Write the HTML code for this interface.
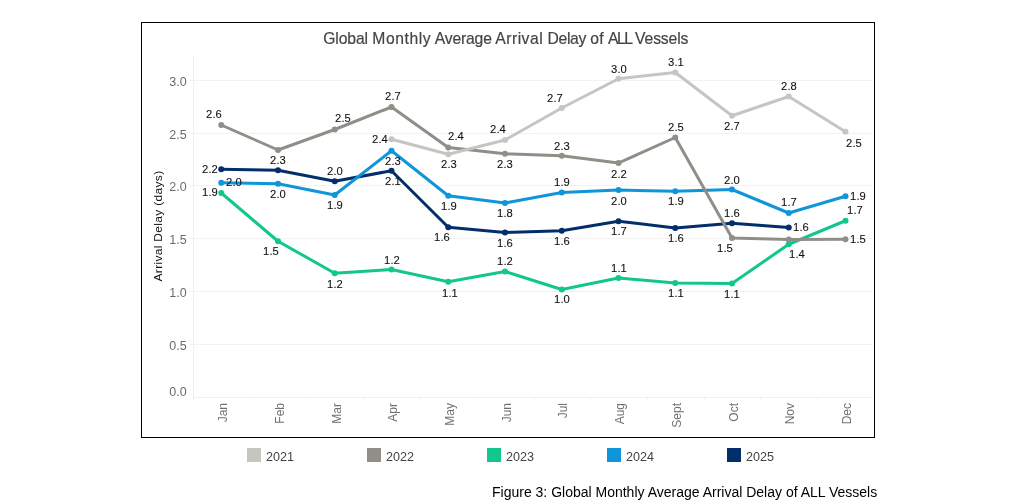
<!DOCTYPE html>
<html><head><meta charset="utf-8"><title>Figure 3</title>
<style>
html,body{margin:0;padding:0;background:#fff;}
body{width:1017px;height:500px;position:relative;overflow:hidden;font-family:"Liberation Sans",sans-serif;}
#frame{position:absolute;left:141px;top:22px;width:732px;height:414px;border:1px solid #000;}
.t{position:absolute;white-space:nowrap;line-height:1;}
.dl{font-size:11px;letter-spacing:0.1px;color:#111;-webkit-text-stroke:0.1px #111;transform:translateX(-50%) scaleX(1.02);margin-left:0.05px;}
.yl{font-size:12.5px;color:#6c6c6c;transform:translate(-100%,-50%);}
.ml{font-size:12px;letter-spacing:0px;color:#707070;transform-origin:0 0;transform:rotate(-90deg) translate(-100%,-50%);}
.lg{font-size:12.6px;color:#444;}
.sw{position:absolute;width:14px;height:14px;top:448px;}
#wrap{position:absolute;left:0;top:0;width:1017px;height:500px;will-change:transform;}
</style></head><body><div id="wrap">
<div id="frame"></div>

<svg width="1017" height="500" viewBox="0 0 1017 500" style="position:absolute;left:0;top:0">
<rect x="193" y="80" width="680" height="1" fill="#f2f2f2"/>
<rect x="189" y="80" width="4" height="1" fill="#f3f3f3"/>
<rect x="193" y="133" width="680" height="1" fill="#f2f2f2"/>
<rect x="189" y="133" width="4" height="1" fill="#f3f3f3"/>
<rect x="193" y="185" width="680" height="1" fill="#f2f2f2"/>
<rect x="189" y="185" width="4" height="1" fill="#f3f3f3"/>
<rect x="193" y="238" width="680" height="1" fill="#f2f2f2"/>
<rect x="189" y="238" width="4" height="1" fill="#f3f3f3"/>
<rect x="193" y="291" width="680" height="1" fill="#f2f2f2"/>
<rect x="189" y="291" width="4" height="1" fill="#f3f3f3"/>
<rect x="193" y="344" width="680" height="1" fill="#f2f2f2"/>
<rect x="189" y="344" width="4" height="1" fill="#f3f3f3"/>
<rect x="193" y="55" width="1" height="346" fill="#f0f0f0"/>
<rect x="193" y="397" width="680" height="1" fill="#f0f0f0"/>
<rect x="250" y="397" width="1" height="4" fill="#f2f2f2"/>
<rect x="306" y="397" width="1" height="4" fill="#f2f2f2"/>
<rect x="363" y="397" width="1" height="4" fill="#f2f2f2"/>
<rect x="420" y="397" width="1" height="4" fill="#f2f2f2"/>
<rect x="477" y="397" width="1" height="4" fill="#f2f2f2"/>
<rect x="534" y="397" width="1" height="4" fill="#f2f2f2"/>
<rect x="590" y="397" width="1" height="4" fill="#f2f2f2"/>
<rect x="647" y="397" width="1" height="4" fill="#f2f2f2"/>
<rect x="704" y="397" width="1" height="4" fill="#f2f2f2"/>
<rect x="760" y="397" width="1" height="4" fill="#f2f2f2"/>
<rect x="817" y="397" width="1" height="4" fill="#f2f2f2"/>
<path d="M221.25,169.25 L278.00,170.25 L334.75,181.25 L391.50,170.75 L448.25,227.25 L505.00,232.50 L561.75,230.75 L618.50,221.25 L675.25,228.00 L732.00,223.25 L788.75,227.50" fill="none" stroke="#022f6b" stroke-width="3" stroke-linejoin="round" stroke-linecap="round"/>
<circle cx="221.25" cy="169.25" r="3" fill="#022f6b"/>
<circle cx="278.00" cy="170.25" r="3" fill="#022f6b"/>
<circle cx="334.75" cy="181.25" r="3" fill="#022f6b"/>
<circle cx="391.50" cy="170.75" r="3" fill="#022f6b"/>
<circle cx="448.25" cy="227.25" r="3" fill="#022f6b"/>
<circle cx="505.00" cy="232.50" r="3" fill="#022f6b"/>
<circle cx="561.75" cy="230.75" r="3" fill="#022f6b"/>
<circle cx="618.50" cy="221.25" r="3" fill="#022f6b"/>
<circle cx="675.25" cy="228.00" r="3" fill="#022f6b"/>
<circle cx="732.00" cy="223.25" r="3" fill="#022f6b"/>
<circle cx="788.75" cy="227.50" r="3" fill="#022f6b"/>
<path d="M221.25,182.75 L278.00,183.75 L334.75,195.00 L391.50,150.75 L448.25,195.75 L505.00,203.00 L561.75,192.50 L618.50,190.00 L675.25,191.25 L732.00,189.50 L788.75,213.00 L845.50,196.25" fill="none" stroke="#0f95d8" stroke-width="3" stroke-linejoin="round" stroke-linecap="round"/>
<circle cx="221.25" cy="182.75" r="3" fill="#0f95d8"/>
<circle cx="278.00" cy="183.75" r="3" fill="#0f95d8"/>
<circle cx="334.75" cy="195.00" r="3" fill="#0f95d8"/>
<circle cx="391.50" cy="150.75" r="3" fill="#0f95d8"/>
<circle cx="448.25" cy="195.75" r="3" fill="#0f95d8"/>
<circle cx="505.00" cy="203.00" r="3" fill="#0f95d8"/>
<circle cx="561.75" cy="192.50" r="3" fill="#0f95d8"/>
<circle cx="618.50" cy="190.00" r="3" fill="#0f95d8"/>
<circle cx="675.25" cy="191.25" r="3" fill="#0f95d8"/>
<circle cx="732.00" cy="189.50" r="3" fill="#0f95d8"/>
<circle cx="788.75" cy="213.00" r="3" fill="#0f95d8"/>
<circle cx="845.50" cy="196.25" r="3" fill="#0f95d8"/>
<path d="M221.25,193.00 L278.00,241.25 L334.75,273.25 L391.50,269.50 L448.25,281.75 L505.00,271.50 L561.75,289.50 L618.50,278.00 L675.25,283.00 L732.00,283.50 L788.75,244.25 L845.50,220.75" fill="none" stroke="#12c68e" stroke-width="3" stroke-linejoin="round" stroke-linecap="round"/>
<circle cx="221.25" cy="193.00" r="3" fill="#12c68e"/>
<circle cx="278.00" cy="241.25" r="3" fill="#12c68e"/>
<circle cx="334.75" cy="273.25" r="3" fill="#12c68e"/>
<circle cx="391.50" cy="269.50" r="3" fill="#12c68e"/>
<circle cx="448.25" cy="281.75" r="3" fill="#12c68e"/>
<circle cx="505.00" cy="271.50" r="3" fill="#12c68e"/>
<circle cx="561.75" cy="289.50" r="3" fill="#12c68e"/>
<circle cx="618.50" cy="278.00" r="3" fill="#12c68e"/>
<circle cx="675.25" cy="283.00" r="3" fill="#12c68e"/>
<circle cx="732.00" cy="283.50" r="3" fill="#12c68e"/>
<circle cx="788.75" cy="244.25" r="3" fill="#12c68e"/>
<circle cx="845.50" cy="220.75" r="3" fill="#12c68e"/>
<path d="M221.25,125.00 L278.00,150.00 L334.75,129.50 L391.50,107.00 L448.25,147.50 L505.00,153.75 L561.75,155.75 L618.50,163.00 L675.25,137.50 L732.00,238.00 L788.75,239.50 L845.50,239.25" fill="none" stroke="#8f8f87" stroke-width="3" stroke-linejoin="round" stroke-linecap="round"/>
<circle cx="221.25" cy="125.00" r="3" fill="#8f8f87"/>
<circle cx="278.00" cy="150.00" r="3" fill="#8f8f87"/>
<circle cx="334.75" cy="129.50" r="3" fill="#8f8f87"/>
<circle cx="391.50" cy="107.00" r="3" fill="#8f8f87"/>
<circle cx="448.25" cy="147.50" r="3" fill="#8f8f87"/>
<circle cx="505.00" cy="153.75" r="3" fill="#8f8f87"/>
<circle cx="561.75" cy="155.75" r="3" fill="#8f8f87"/>
<circle cx="618.50" cy="163.00" r="3" fill="#8f8f87"/>
<circle cx="675.25" cy="137.50" r="3" fill="#8f8f87"/>
<circle cx="732.00" cy="238.00" r="3" fill="#8f8f87"/>
<circle cx="788.75" cy="239.50" r="3" fill="#8f8f87"/>
<circle cx="845.50" cy="239.25" r="3" fill="#8f8f87"/>
<path d="M391.50,139.25 L448.25,154.25 L505.00,140.00 L561.75,108.00 L618.50,78.75 L675.25,72.50 L732.00,115.75 L788.75,96.50 L845.50,131.75" fill="none" stroke="#c5c6c0" stroke-width="3" stroke-linejoin="round" stroke-linecap="round"/>
<circle cx="391.50" cy="139.25" r="3" fill="#c5c6c0"/>
<circle cx="448.25" cy="154.25" r="3" fill="#c5c6c0"/>
<circle cx="505.00" cy="140.00" r="3" fill="#c5c6c0"/>
<circle cx="561.75" cy="108.00" r="3" fill="#c5c6c0"/>
<circle cx="618.50" cy="78.75" r="3" fill="#c5c6c0"/>
<circle cx="675.25" cy="72.50" r="3" fill="#c5c6c0"/>
<circle cx="732.00" cy="115.75" r="3" fill="#c5c6c0"/>
<circle cx="788.75" cy="96.50" r="3" fill="#c5c6c0"/>
<circle cx="845.50" cy="131.75" r="3" fill="#c5c6c0"/>
</svg>
<div id="title"><span class="t" style="left:323.2px;top:30.6px;font-size:15.7px;color:#444;-webkit-text-stroke:0.2px #444;letter-spacing:-0.1px;">Global</span><span class="t" style="left:372.3px;top:30.6px;font-size:15.7px;color:#444;-webkit-text-stroke:0.2px #444;letter-spacing:0.57px;">Monthly</span><span class="t" style="left:434.7px;top:30.6px;font-size:15.7px;color:#444;-webkit-text-stroke:0.2px #444;letter-spacing:-0.16px;">Average</span><span class="t" style="left:495.2px;top:30.6px;font-size:15.7px;color:#444;-webkit-text-stroke:0.2px #444;letter-spacing:0.51px;">Arrival</span><span class="t" style="left:547.6px;top:30.6px;font-size:15.7px;color:#444;-webkit-text-stroke:0.2px #444;letter-spacing:-0.35px;">Delay</span><span class="t" style="left:590.3px;top:30.6px;font-size:15.7px;color:#444;-webkit-text-stroke:0.2px #444;letter-spacing:0.3px;">of</span><span class="t" style="left:608.0px;top:30.6px;font-size:15.7px;color:#444;-webkit-text-stroke:0.2px #444;letter-spacing:-1.5px;">ALL</span><span class="t" style="left:635.1px;top:30.6px;font-size:15.7px;color:#444;-webkit-text-stroke:0.2px #444;letter-spacing:-0.13px;">Vessels</span></div>
<div class="t" id="ytitle" style="left:158.7px;top:225.5px;font-size:11.5px;letter-spacing:0.3px;color:#111;transform:translate(-50%,-50%) rotate(-90deg) scaleX(1.044);">Arrival Delay (days)</div>
<div class="t yl" style="left:186.7px;top:81.5px;">3.0</div>
<div class="t yl" style="left:186.7px;top:134.5px;">2.5</div>
<div class="t yl" style="left:186.7px;top:186.5px;">2.0</div>
<div class="t yl" style="left:186.7px;top:239.5px;">1.5</div>
<div class="t yl" style="left:186.7px;top:292.5px;">1.0</div>
<div class="t yl" style="left:186.7px;top:345.7px;">0.5</div>
<div class="t yl" style="left:186.7px;top:391.8px;">0.0</div>
<div class="t ml" style="left:222.90px;top:402.6px;">Jan</div>
<div class="t ml" style="left:279.90px;top:402.6px;">Feb</div>
<div class="t ml" style="left:336.90px;top:402.6px;">Mar</div>
<div class="t ml" style="left:392.90px;top:402.6px;">Apr</div>
<div class="t ml" style="left:449.90px;top:402.6px;">May</div>
<div class="t ml" style="left:506.90px;top:402.6px;">Jun</div>
<div class="t ml" style="left:562.90px;top:402.6px;">Jul</div>
<div class="t ml" style="left:619.90px;top:402.6px;">Aug</div>
<div class="t ml" style="left:676.90px;top:402.6px;">Sept</div>
<div class="t ml" style="left:733.90px;top:402.6px;">Oct</div>
<div class="t ml" style="left:789.90px;top:402.6px;">Nov</div>
<div class="t ml" style="left:846.90px;top:402.6px;">Dec</div>
<div class="t dl" style="left:214px;top:109px;">2.6</div>
<div class="t dl" style="left:278.25px;top:155px;">2.3</div>
<div class="t dl" style="left:342.5px;top:113px;">2.5</div>
<div class="t dl" style="left:392.5px;top:91px;">2.7</div>
<div class="t dl" style="left:380.25px;top:134px;">2.4</div>
<div class="t dl" style="left:392.75px;top:156px;">2.3</div>
<div class="t dl" style="left:392.75px;top:176px;">2.1</div>
<div class="t dl" style="left:210.25px;top:164px;">2.2</div>
<div class="t dl" style="left:233.5px;top:177px;">2.0</div>
<div class="t dl" style="left:209.5px;top:187px;">1.9</div>
<div class="t dl" style="left:278.25px;top:189px;">2.0</div>
<div class="t dl" style="left:335.25px;top:166px;">2.0</div>
<div class="t dl" style="left:335px;top:200px;">1.9</div>
<div class="t dl" style="left:456px;top:131px;">2.4</div>
<div class="t dl" style="left:449.25px;top:159px;">2.3</div>
<div class="t dl" style="left:498.25px;top:124px;">2.4</div>
<div class="t dl" style="left:505.25px;top:159px;">2.3</div>
<div class="t dl" style="left:555px;top:93px;">2.7</div>
<div class="t dl" style="left:562.25px;top:141px;">2.3</div>
<div class="t dl" style="left:619px;top:64px;">3.0</div>
<div class="t dl" style="left:619px;top:169px;">2.2</div>
<div class="t dl" style="left:676px;top:57px;">3.1</div>
<div class="t dl" style="left:676px;top:122px;">2.5</div>
<div class="t dl" style="left:732px;top:121px;">2.7</div>
<div class="t dl" style="left:789px;top:81px;">2.8</div>
<div class="t dl" style="left:854px;top:138px;">2.5</div>
<div class="t dl" style="left:271.25px;top:246px;">1.5</div>
<div class="t dl" style="left:335.25px;top:279px;">1.2</div>
<div class="t dl" style="left:392px;top:255px;">1.2</div>
<div class="t dl" style="left:449.25px;top:201px;">1.9</div>
<div class="t dl" style="left:505.25px;top:208px;">1.8</div>
<div class="t dl" style="left:562px;top:177px;">1.9</div>
<div class="t dl" style="left:619px;top:196px;">2.0</div>
<div class="t dl" style="left:441.5px;top:232px;">1.6</div>
<div class="t dl" style="left:505.25px;top:238px;">1.6</div>
<div class="t dl" style="left:562.25px;top:236px;">1.6</div>
<div class="t dl" style="left:619.4px;top:226px;">1.7</div>
<div class="t dl" style="left:505.25px;top:256px;">1.2</div>
<div class="t dl" style="left:619px;top:263px;">1.1</div>
<div class="t dl" style="left:449.5px;top:288px;">1.1</div>
<div class="t dl" style="left:562.25px;top:294px;">1.0</div>
<div class="t dl" style="left:676px;top:196px;">1.9</div>
<div class="t dl" style="left:732.25px;top:175px;">2.0</div>
<div class="t dl" style="left:789.25px;top:197px;">1.7</div>
<div class="t dl" style="left:858.25px;top:191px;">1.9</div>
<div class="t dl" style="left:854.5px;top:205px;">1.7</div>
<div class="t dl" style="left:732.25px;top:208px;">1.6</div>
<div class="t dl" style="left:801px;top:222px;">1.6</div>
<div class="t dl" style="left:676px;top:233px;">1.6</div>
<div class="t dl" style="left:725.25px;top:243px;">1.5</div>
<div class="t dl" style="left:858.25px;top:234px;">1.5</div>
<div class="t dl" style="left:797.25px;top:249px;">1.4</div>
<div class="t dl" style="left:676px;top:288px;">1.1</div>
<div class="t dl" style="left:732px;top:289px;">1.1</div>
<div class="sw" style="left:247px;background:#c5c6c0;"></div>
<div class="t lg" style="left:266px;top:450.5px;">2021</div>
<div class="sw" style="left:367px;background:#8f8f87;"></div>
<div class="t lg" style="left:386px;top:450.5px;">2022</div>
<div class="sw" style="left:487px;background:#12c68e;"></div>
<div class="t lg" style="left:506px;top:450.5px;">2023</div>
<div class="sw" style="left:607px;background:#0f95d8;"></div>
<div class="t lg" style="left:626px;top:450.5px;">2024</div>
<div class="sw" style="left:727px;background:#022f6b;"></div>
<div class="t lg" style="left:746px;top:450.5px;">2025</div>
<div class="t" id="cap" style="left:492px;top:484.7px;font-size:14px;color:#000;">Figure 3: Global Monthly Average Arrival Delay of ALL Vessels</div>
</div></body></html>
